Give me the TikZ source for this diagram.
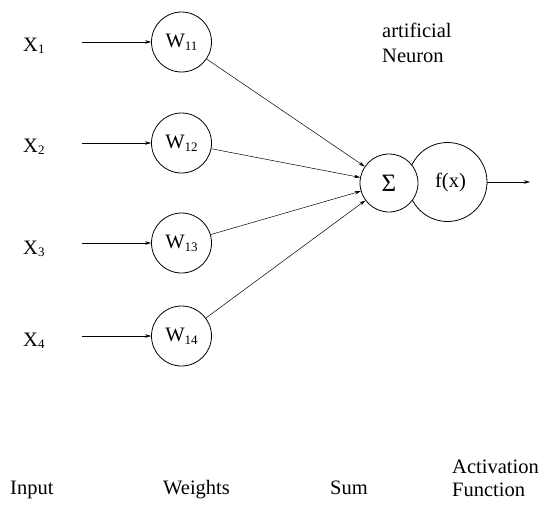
\documentclass[tikz,border=0pt]{standalone}
\usepackage{fontspec}
\setmainfont{Liberation Serif}
\usetikzlibrary{arrows.meta}
\newcommand{\lowsub}[1]{\raisebox{-0.3ex}{\fontsize{13}{13}\selectfont #1}}
\begin{document}
\begin{tikzpicture}[x=1pt,y=-1pt,
  lbl/.style={anchor=base west,inner sep=0pt,font=\fontsize{20.5}{23}\selectfont},
  weight/.style={circle,draw,line width=0.8pt,minimum size=60pt,inner sep=0pt,font=\fontsize{20.5}{23}\selectfont},
  conn/.style={line width=0.5pt,-{Stealth[length=6pt,width=3.5pt]}}]
\useasboundingbox (0,0) rectangle (540,506);

% inputs
\node[lbl] (x1) at (23,51)  {X\lowsub{1}};
\node[lbl] (x2) at (23,152) {X\lowsub{2}};
\node[lbl] (x3) at (23,254) {X\lowsub{3}};
\node[lbl] (x4) at (23,346) {X\lowsub{4}};

\coordinate (i1) at (82,42);
\coordinate (i2) at (82,143);
\coordinate (i3) at (82,243);
\coordinate (i4) at (82,336);

% weights
\node[weight] (w1) at (181.5,42)  {W\lowsub{11}};
\node[weight] (w2) at (181.5,143) {W\lowsub{12}};
\node[weight] (w3) at (181.5,243) {W\lowsub{13}};
\node[weight] (w4) at (181.5,336) {W\lowsub{14}};

% neuron: activation circle behind the summation circle
\node[circle,draw,line width=0.8pt,minimum size=79pt,inner sep=0pt,
      font=\fontsize{20.5}{23}\selectfont] (fx) at (447.5,182) {\hspace*{6pt}f(x)};
\node[circle,draw,fill=white,line width=0.8pt,minimum size=58pt,inner sep=0pt,
      font=\fontsize{25}{25}\selectfont] (sum) at (389,183) {Σ};
\coordinate (out) at (530,182);

\foreach \k in {1,...,4} {
  \draw[conn] (i\k) -- (w\k);
  \draw[conn] (w\k) -- (sum);
}
\draw[conn] (fx.east) -- (out);

% captions
\node[lbl] (art) at (382,37) {artificial};
\node[lbl] (neu) at (382,62) {Neuron};
\node[lbl] (inp) at (10,494) {Input};
\node[lbl] (wgt) at (163,494) {Weights};
\node[lbl] (sm)  at (330,494) {Sum};
\node[lbl] (act) at (452,473) {Activation};
\node[lbl] (fun) at (452,496) {Function};
\end{tikzpicture}
\end{document}
